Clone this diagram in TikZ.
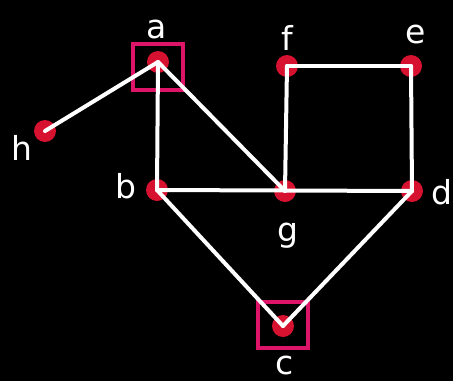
\documentclass[tikz,border=0pt]{standalone}
\usepackage{fontspec}
\setmainfont{DejaVu Sans}
\definecolor{dotred}{RGB}{215,18,48}
\definecolor{boxpink}{RGB}{222,20,105}
\begin{document}
\begin{tikzpicture}[x=1pt,y=-1pt,
  dot/.style={circle,fill=dotred,inner sep=0pt,minimum size=22pt},
  edge/.style={white,line width=4pt,line cap=round,line join=round},
  lab/.style={text=white,font=\fontsize{33}{33}\selectfont,inner sep=0pt},
  hl/.style={draw=boxpink,line width=4.5pt,minimum width=50pt,minimum height=46pt,inner sep=0pt}]
\fill[black] (0,0) rectangle (453,381);
\useasboundingbox (0,0) rectangle (453,381);
\node[dot] (a) at (158,62) {};
\node[dot] (f) at (287,66) {};
\node[dot] (e) at (411,66) {};
\node[dot] (h) at (45,131) {};
\node[dot] (b) at (157,190) {};
\node[dot] (g) at (285,191) {};
\node[dot] (d) at (412,191) {};
\node[dot] (c) at (283,326) {};
\node[hl] (ha) at (158,67) {};
\node[hl] (hc) at (283,325) {};
\draw[edge] (h.center) -- (a.center);
\draw[edge] (a.center) -- (b.center);
\draw[edge] (a.center) -- (g.center);
\draw[edge] (f.center) -- (g.center);
\draw[edge] (f.center) -- (e.center);
\draw[edge] (e.center) -- (d.center);
\draw[edge] (b.center) -- (d.center);
\draw[edge] (b.center) -- (c.center);
\draw[edge] (d.center) -- (c.center);
\node[lab] (la) at (157,29) {a};
\node[lab] (lf) at (287,38) {f};
\node[lab] (le) at (416,34) {e};
\node[lab] (lh) at (22,148) {h};
\node[lab] (lb) at (126,186) {b};
\node[lab] (lg) at (288,236) {g};
\node[lab] (ld) at (442,192) {d};
\node[lab] (lc) at (285,365) {c};
\end{tikzpicture}
\end{document}
